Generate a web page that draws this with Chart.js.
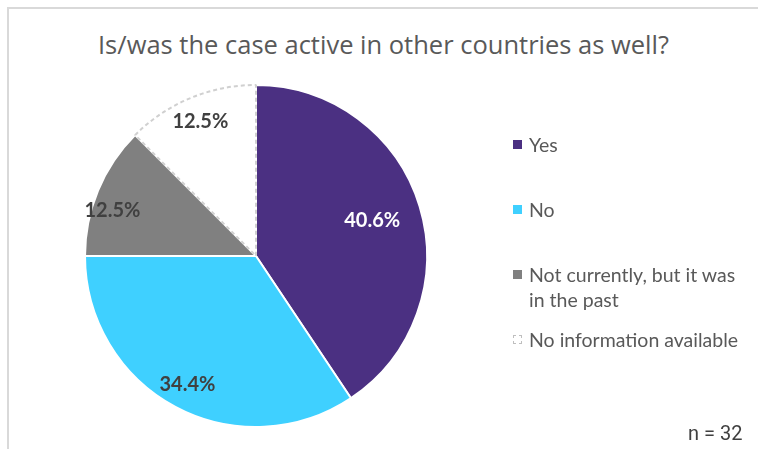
<!DOCTYPE html>
<html>
<head>
<meta charset="utf-8">
<script src="https://cdn.jsdelivr.net/npm/chart.js@4/dist/chart.umd.min.js"></script>
<style>
  html, body { margin: 0; padding: 0; background: #fff; }
  #wrap { position: relative; width: 758px; height: 449px; overflow: hidden; }
  #frame { position: absolute; left: 7px; top: 7px; right: -5px; bottom: -5px;
           border-top: 2px solid #D9D9D9; border-left: 2px solid #D9D9D9; }
  #title { position: absolute; left: 9px; right: 0; top: 27px; text-align: center;
           font-family: "Open Sans", sans-serif; font-size: 25.5px; color: #595959; }
  canvas { position: absolute; left: 0; top: 0; }
  .item { position: absolute; left: 513px; font-family: Lato, sans-serif; font-size: 19.5px;
          color: #595959; line-height: 25px; white-space: nowrap; }
  .item i { position: absolute; left: 0; top: 8px; width: 9px; height: 9px; box-sizing: border-box; }
  .item span { display: block; margin-left: 16px; }
  #n { position: absolute; left: 688px; top: 421px; font-family: Roboto, sans-serif;
       font-size: 20px; color: #404040; }
</style>
</head>
<body>
<div id="wrap">
  <div id="frame"></div>
  <div id="title">Is/was the case active in other countries as well?</div>
  <canvas id="pie" width="758" height="449"></canvas>
  <div id="legend"></div>
  <div id="n">n = 32</div>
</div>
<script>
// Is/was the case active in other countries as well? (n = 32)
const labels = ['Yes', 'No', ['Not currently, but it was', 'in the past'], 'No information available'];
const counts = [13, 11, 4, 4];
const pctLabels = ['40.6%', '34.4%', '12.5%', '12.5%'];
const colors = ['#4B3082', '#3FD0FF', '#808080', '#FFFFFF'];
const labelColors = ['#FFFFFF', '#404040', '#404040', '#404040'];
const labelRadius = [0.71, 0.85, 0.88, 0.85];
const labelShift = [0, 0, -5, 0]; // degrees

// legend (html)
const legend = document.getElementById('legend');
labels.forEach((lab, i) => {
    const lines = Array.isArray(lab) ? lab : [lab];
    const div = document.createElement('div');
    div.className = 'item';
    div.style.top = (144 + i * 65 - 12.5) + 'px';
    const box = i === 3
        ? '<i style="border:1px dashed #BFBFBF;background:#fff"></i>'
        : `<i style="background:${colors[i]}"></i>`;
    div.innerHTML = box + lines.map(l => `<span>${l}</span>`).join('');
    legend.appendChild(div);
});

const sliceLabels = {
    id: 'sliceLabels',
    afterDatasetsDraw(chart) {
        const ctx = chart.ctx;
        const meta = chart.getDatasetMeta(0);
        ctx.save();
        ctx.font = 'bold 20px Lato, sans-serif';
        ctx.textAlign = 'center';
        ctx.textBaseline = 'middle';
        meta.data.forEach((arc, i) => {
            const p = arc.getProps(['x', 'y', 'startAngle', 'endAngle', 'outerRadius'], true);
            const mid = (p.startAngle + p.endAngle) / 2 + labelShift[i] * Math.PI / 180;
            const r = p.outerRadius * labelRadius[i];
            ctx.fillStyle = labelColors[i];
            ctx.fillText(pctLabels[i], p.x + Math.cos(mid) * r, p.y + Math.sin(mid) * r);
        });
        ctx.restore();
    }
};

new Chart(document.getElementById('pie'), {
    type: 'pie',
    data: {
        labels: labels,
        datasets: [{
            data: counts,
            backgroundColor: colors,
            borderColor: (c) => c.dataIndex === 3 ? '#D0D0D0' : '#FFFFFF',
            borderDash: (c) => c.dataIndex === 3 ? [4, 3] : [],
            borderWidth: 2
        }]
    },
    options: {
        responsive: false,
        animation: false,
        layout: { padding: { left: 84, top: 84, right: 330, bottom: 21 } },
        plugins: {
            legend: { display: false },
            tooltip: { enabled: false },
            title: { display: false }
        }
    },
    plugins: [sliceLabels]
});
</script>
</body>
</html>
